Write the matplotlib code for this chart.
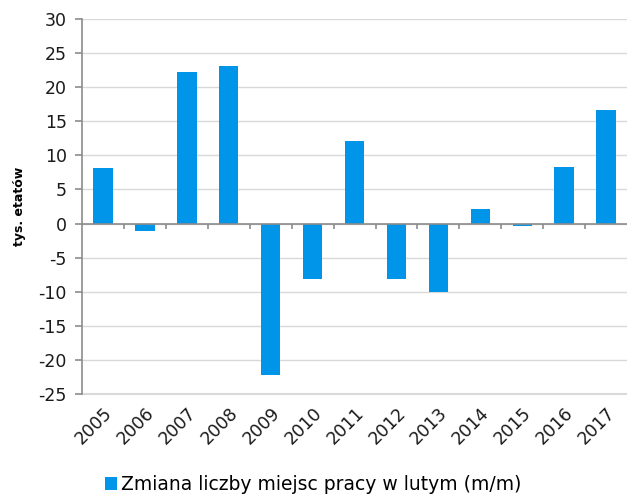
import matplotlib.pyplot as plt
import numpy as np

years = ['2005', '2006', '2007', '2008', '2009', '2010', '2011',
         '2012', '2013', '2014', '2015', '2016', '2017']
values = [8.1, -1.1, 22.2, 23.1, -22.2, -8.1, 12.1, -8.1, -10.0, 2.1, -0.3, 8.3, 16.6]
yticks = list(range(-25, 31, 5))

bar_color = '#0095e8'
grid_color = '#d9d9d9'
axis_color = '#8c8c8c'

fig = plt.figure(figsize=(6.27, 5.0), dpi=100)
ax = fig.add_axes([0.131, 0.212, 0.869, 0.75])

x = np.arange(len(years))
ax.bar(x, values, width=0.46, color=bar_color, zorder=3, label='Zmiana liczby miejsc pracy w lutym (m/m)')

ax.set_xlim(-0.5, len(years) - 0.5)
ax.set_ylim(-25, 30)
ax.set_yticks(yticks)
ax.set_yticklabels([str(t) for t in yticks], fontsize=12.5, color='#1a1a1a')
ax.yaxis.grid(True, color=grid_color, linewidth=1, zorder=0)
ax.axhline(-25, color=grid_color, linewidth=1.5, zorder=0, clip_on=False)

# zero line with category boundary ticks
ax.axhline(0, color=axis_color, linewidth=1.2, zorder=4)
bounds = np.arange(len(years) + 1) - 0.5
ax.vlines(bounds[1:-1], -0.75, 0, color=axis_color, linewidth=1.2, zorder=4)

ax.set_xticks(x)
ax.set_xticklabels(years, rotation=45, ha='right', rotation_mode='anchor', fontsize=12.5, color='#1a1a1a')
ax.tick_params(axis='x', length=0, pad=7)
ax.tick_params(axis='y', length=5, color=axis_color, width=1.2, pad=6)

for s in ['top', 'right', 'bottom']:
    ax.spines[s].set_visible(False)
ax.spines['left'].set_color(axis_color)
ax.spines['left'].set_linewidth(1.2)

ax.set_ylabel('tys. etatów', fontsize=9, fontweight='bold', labelpad=9)

fig.legend(loc='lower center', bbox_to_anchor=(0.5, -0.022), frameon=False, fontsize=13.5,
           handlelength=0.6, handleheight=0.7, handletextpad=0.25)

plt.savefig('out.png', dpi=100)
plt.close()
